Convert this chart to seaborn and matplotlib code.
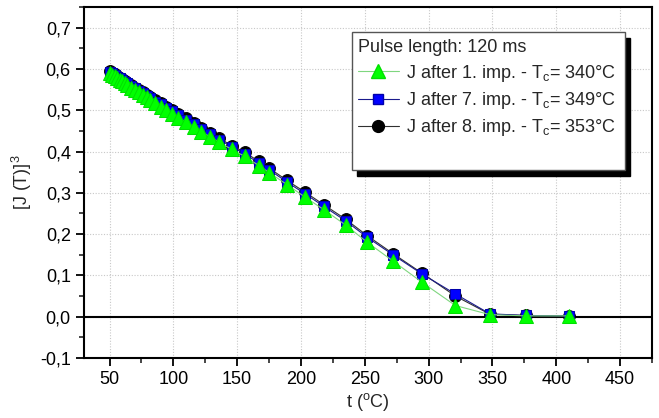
import matplotlib
matplotlib.use("Agg")
import matplotlib.pyplot as plt
import matplotlib.ticker as mticker
from matplotlib.patches import Rectangle
from matplotlib.lines import Line2D
import seaborn as sns
import pandas as pd

# ---- data ----
temps = [50, 52, 54, 56, 58, 60, 62, 64, 67, 70, 73, 76, 79, 82, 86, 90, 94, 99,
         104, 110, 116, 122, 129, 136, 146, 156, 167, 175, 189, 203, 218, 235,
         252, 272, 295, 321, 348, 376, 410]

j_imp8 = [0.595, 0.591, 0.587, 0.583, 0.579, 0.575, 0.571, 0.567, 0.561, 0.555,
          0.549, 0.543, 0.537, 0.531, 0.524, 0.517, 0.509, 0.500, 0.491, 0.480,
          0.469, 0.458, 0.445, 0.432, 0.414, 0.398, 0.376, 0.360, 0.330, 0.302,
          0.271, 0.236, 0.196, 0.153, 0.105, 0.050, 0.006, 0.003, 0.002]

j_imp7 = [0.593, 0.589, 0.585, 0.581, 0.577, 0.573, 0.569, 0.565, 0.559, 0.553,
          0.547, 0.541, 0.535, 0.529, 0.521, 0.514, 0.506, 0.497, 0.488, 0.477,
          0.466, 0.455, 0.442, 0.429, 0.411, 0.394, 0.372, 0.356, 0.326, 0.298,
          0.267, 0.232, 0.192, 0.150, 0.103, 0.055, 0.007, 0.003, 0.002]

j_imp1 = [0.590, 0.586, 0.582, 0.578, 0.574, 0.570, 0.566, 0.561, 0.555, 0.549,
          0.543, 0.537, 0.531, 0.525, 0.517, 0.509, 0.501, 0.492, 0.482, 0.471,
          0.460, 0.448, 0.435, 0.422, 0.405, 0.388, 0.366, 0.349, 0.320, 0.290,
          0.259, 0.222, 0.180, 0.135, 0.083, 0.027, 0.005, 0.002, 0.002]

labels = ["J after 1. imp. - T$_\\mathregular{c}$= 340°C",
          "J after 7. imp. - T$_\\mathregular{c}$= 349°C",
          "J after 8. imp. - T$_\\mathregular{c}$= 353°C"]
legend_title = "Pulse length: 120 ms"
x_ticks = [50, 100, 150, 200, 250, 300, 350, 400, 450]
y_ticks = [-0.1, 0.0, 0.1, 0.2, 0.3, 0.4, 0.5, 0.6, 0.7]

df = pd.DataFrame({"t": temps, "imp8": j_imp8, "imp7": j_imp7, "imp1": j_imp1})

# ---- style ----
sns.set_style("white")
plt.rcParams["font.family"] = ["Liberation Sans", "DejaVu Sans"]
plt.rcParams["mathtext.fontset"] = "custom"
plt.rcParams["mathtext.rm"] = "Liberation Sans"
plt.rcParams["mathtext.it"] = "Liberation Sans"

fig = plt.figure(figsize=(6.59, 4.18), dpi=100)
ax = fig.add_axes([84 / 659, 1 - 358 / 418, 568 / 659, 351 / 418])

FS = 13

# series: draw black first, then blue, then green on top
sns.lineplot(data=df, x="t", y="imp8", ax=ax, sort=False, color="#303030",
             lw=0.8, marker="o", markersize=8.5, markerfacecolor="black",
             markeredgecolor="black", zorder=3, legend=False)
sns.lineplot(data=df, x="t", y="imp7", ax=ax, sort=False, color="#1a1a8c",
             lw=0.8, marker="s", markersize=7.5, markerfacecolor="#0000ff",
             markeredgecolor="#0000aa", zorder=4, legend=False)
sns.lineplot(data=df, x="t", y="imp1", ax=ax, sort=False, color="#7fd67f",
             lw=0.8, marker="^", markersize=10, markerfacecolor="#00ff00",
             markeredgecolor="#00e000", zorder=5, legend=False)

ax.axhline(0, color="black", lw=1.5, zorder=2)

ax.set_xlim(30, 475)
ax.set_ylim(-0.1, 0.75)
ax.set_xticks(x_ticks)
ax.set_yticks(y_ticks)
ax.xaxis.set_minor_locator(mticker.MultipleLocator(25))
ax.yaxis.set_minor_locator(mticker.MultipleLocator(0.05))
ax.yaxis.set_major_formatter(mticker.FuncFormatter(lambda v, p: f"{v:.1f}".replace(".", ",").replace("-0,0", "0,0")))

ax.grid(True, which="major", color="#c8c8c8", linestyle=(0, (1, 1.5)), lw=0.8, zorder=0)
ax.set_axisbelow(True)

for s in ax.spines.values():
    s.set_color("black")
    s.set_linewidth(1.5)

ax.tick_params(which="major", direction="out", length=6, width=1.3, labelsize=FS,
               bottom=True, left=True, top=False, right=False, colors="black")
ax.tick_params(which="minor", direction="out", length=3.5, width=1.2,
               bottom=True, left=True, top=False, right=False)

ax.set_xlabel("t ($^\\mathregular{o}$C)", fontsize=FS, labelpad=2)
ax.set_ylabel("[J (T)]$^\\mathregular{3}$", fontsize=FS, labelpad=4)

# legend frame with shadow (manual)
bx0, bx1 = (352 - 84) / 568, (625 - 84) / 568
by0, by1 = (358 - 170) / 351, (358 - 31.7) / 351
sx, sy = 5 / 568, 6 / 351
ax.add_patch(Rectangle((bx0 + sx, by0 - sy), bx1 - bx0, by1 - by0, transform=ax.transAxes,
                       facecolor="black", edgecolor="black", zorder=8))
ax.add_patch(Rectangle((bx0, by0), bx1 - bx0, by1 - by0, transform=ax.transAxes,
                       facecolor="white", edgecolor="#555555", lw=1.0, zorder=9))

handles = [
    Line2D([], [], color="#7fd67f", lw=0.8, marker="^", markersize=10,
           markerfacecolor="#00ff00", markeredgecolor="#00e000"),
    Line2D([], [], color="#1a1a8c", lw=0.8, marker="s", markersize=7.5,
           markerfacecolor="#0000ff", markeredgecolor="#0000aa"),
    Line2D([], [], color="#303030", lw=0.8, marker="o", markersize=8.5,
           markerfacecolor="black", markeredgecolor="black"),
]
leg = ax.legend(handles, labels, title=legend_title, loc="upper left",
                bbox_to_anchor=(bx0 + 2 / 568, by1 - 4 / 351), frameon=False,
                fontsize=FS, title_fontsize=FS, handlelength=2.3, handletextpad=0.4,
                labelspacing=0.35, borderpad=0.2, borderaxespad=0, alignment="left")
leg.set_zorder(10)

fig.savefig("out.png", dpi=100)
